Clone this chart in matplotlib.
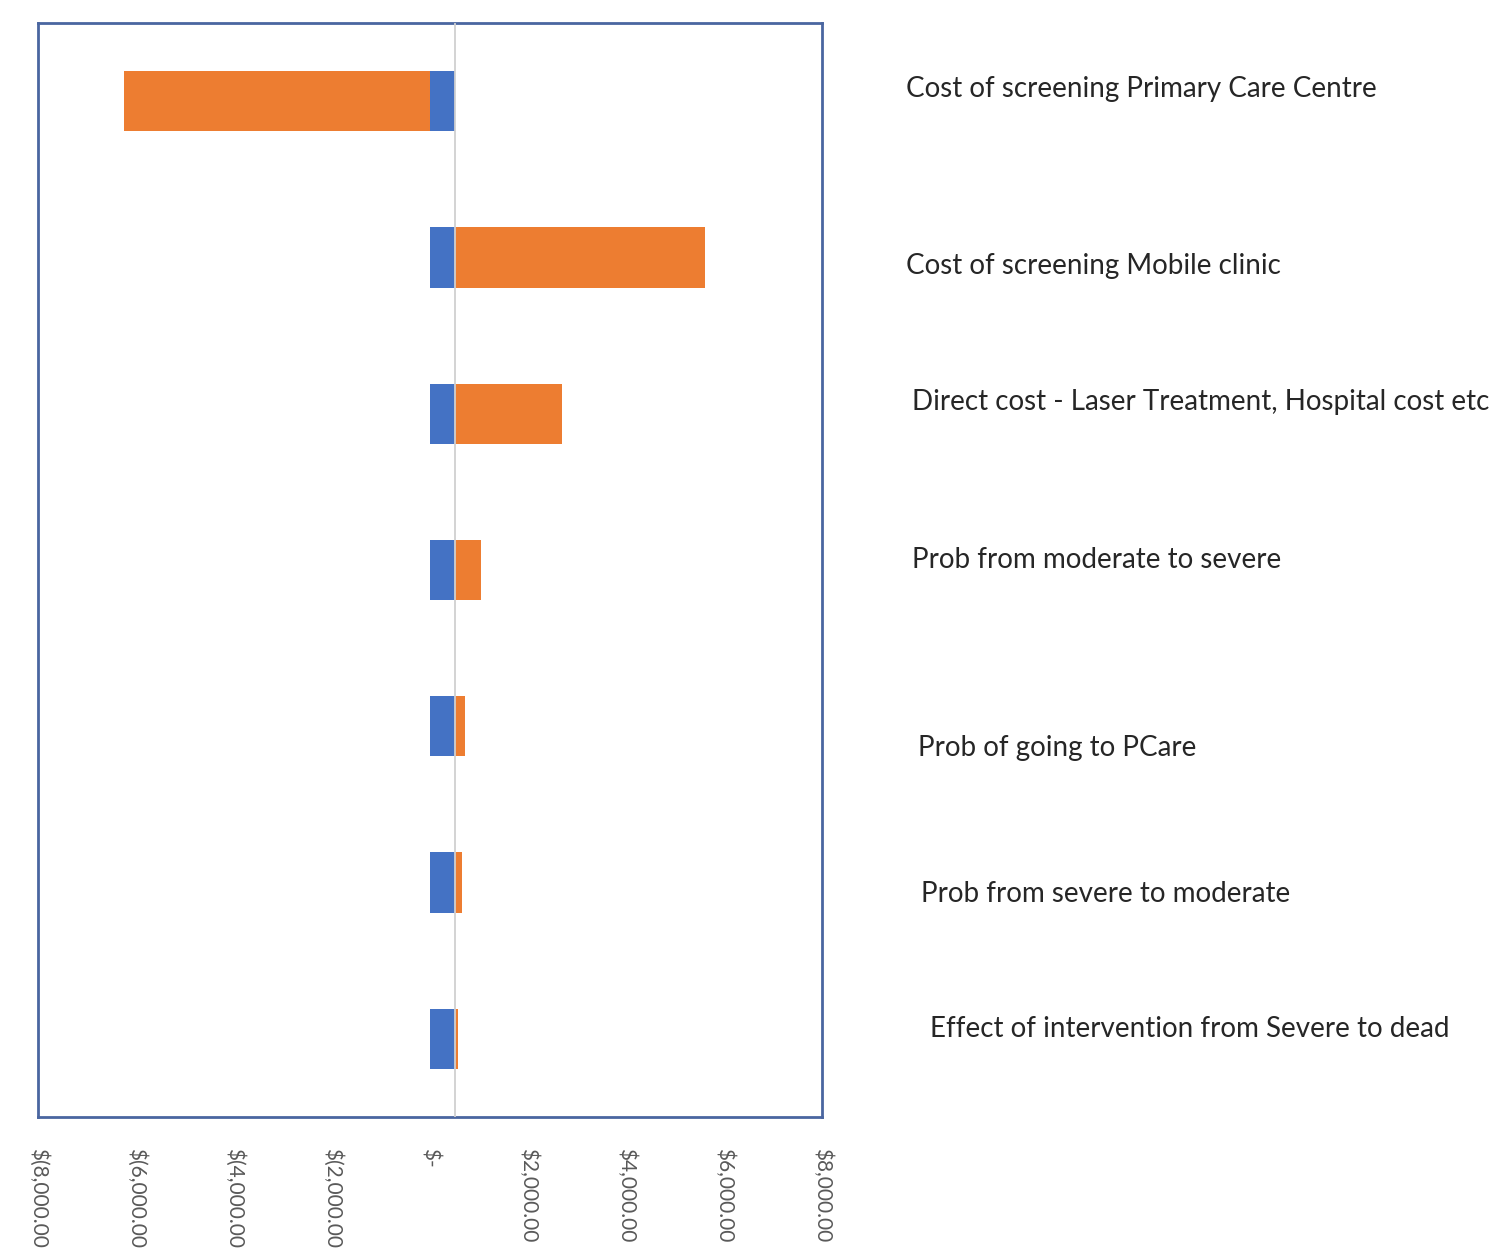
import numpy as np
import matplotlib
matplotlib.use("Agg")
import matplotlib.pyplot as plt

# ---- data ----
categories = [
    "Cost of screening Primary Care Centre",
    "Cost of screening Mobile clinic",
    "Direct cost - Laser Treatment, Hospital cost etc",
    "Prob from moderate to severe",
    "Prob of going to PCare",
    "Prob from severe to moderate",
    "Effect of intervention from Severe to dead",
]
base_value = 500
low_values = [500, 500, 500, 500, 500, 500, 500]          # blue
high_values = [-6245, 5110, 2190, 540, 215, 150, 70]       # orange
tick_values = [-8000, -6000, -4000, -2000, 0, 2000, 4000, 6000, 8000]
tick_labels = ["$(8,000.00", "$(6,000.00", "$(4,000.00", "$(2,000.00", "$-",
               "$2,000.00", "$4,000.00", "$6,000.00", "$8,000.00"]

W, H = 1492, 1255
fig = plt.figure(figsize=(W / 100, H / 100), dpi=100)
fig.patch.set_facecolor("white")
ax = fig.add_axes([38 / W, 1 - 1117 / H, (822 - 38) / W, (1117 - 23) / H])

y = np.arange(len(categories))
low = np.array(low_values, dtype=float)
high = np.array(high_values, dtype=float)
ax.barh(y, low, height=0.385, color="#4472C4", zorder=2)
ax.barh(y, high, left=np.where(high < 0, 0, low), height=0.385,
        color="#ED7D31", zorder=2)
ax.axvline(base_value, color="#d0d0d0", lw=1.3, zorder=3)

ax.set_xlim(-8000, 8000)
ax.set_ylim(len(categories) - 0.5, -0.5)
ax.set_yticks([])
ax.set_xticks(tick_values)
ax.set_xticklabels(tick_labels, rotation=-90, fontsize=15, color="#595959",
                   family=["Lato", "DejaVu Sans"], va="top", ha="center")
ax.tick_params(axis="x", length=0, pad=22)
for s in ax.spines.values():
    s.set_color("#4a66a0")
    s.set_linewidth(2.0)

# right-hand category labels
label_px = [(906, 89), (906, 266), (912, 402), (912, 560),
            (918, 748), (921, 894), (930, 1029)]
for name, (px, py) in zip(categories, label_px):
    fig.text(px / W, 1 - py / H, name, fontsize=20, color="#262626",
             family=["Lato", "DejaVu Sans"], va="center", ha="left")

fig.savefig("out.png", dpi=100, facecolor="white")
